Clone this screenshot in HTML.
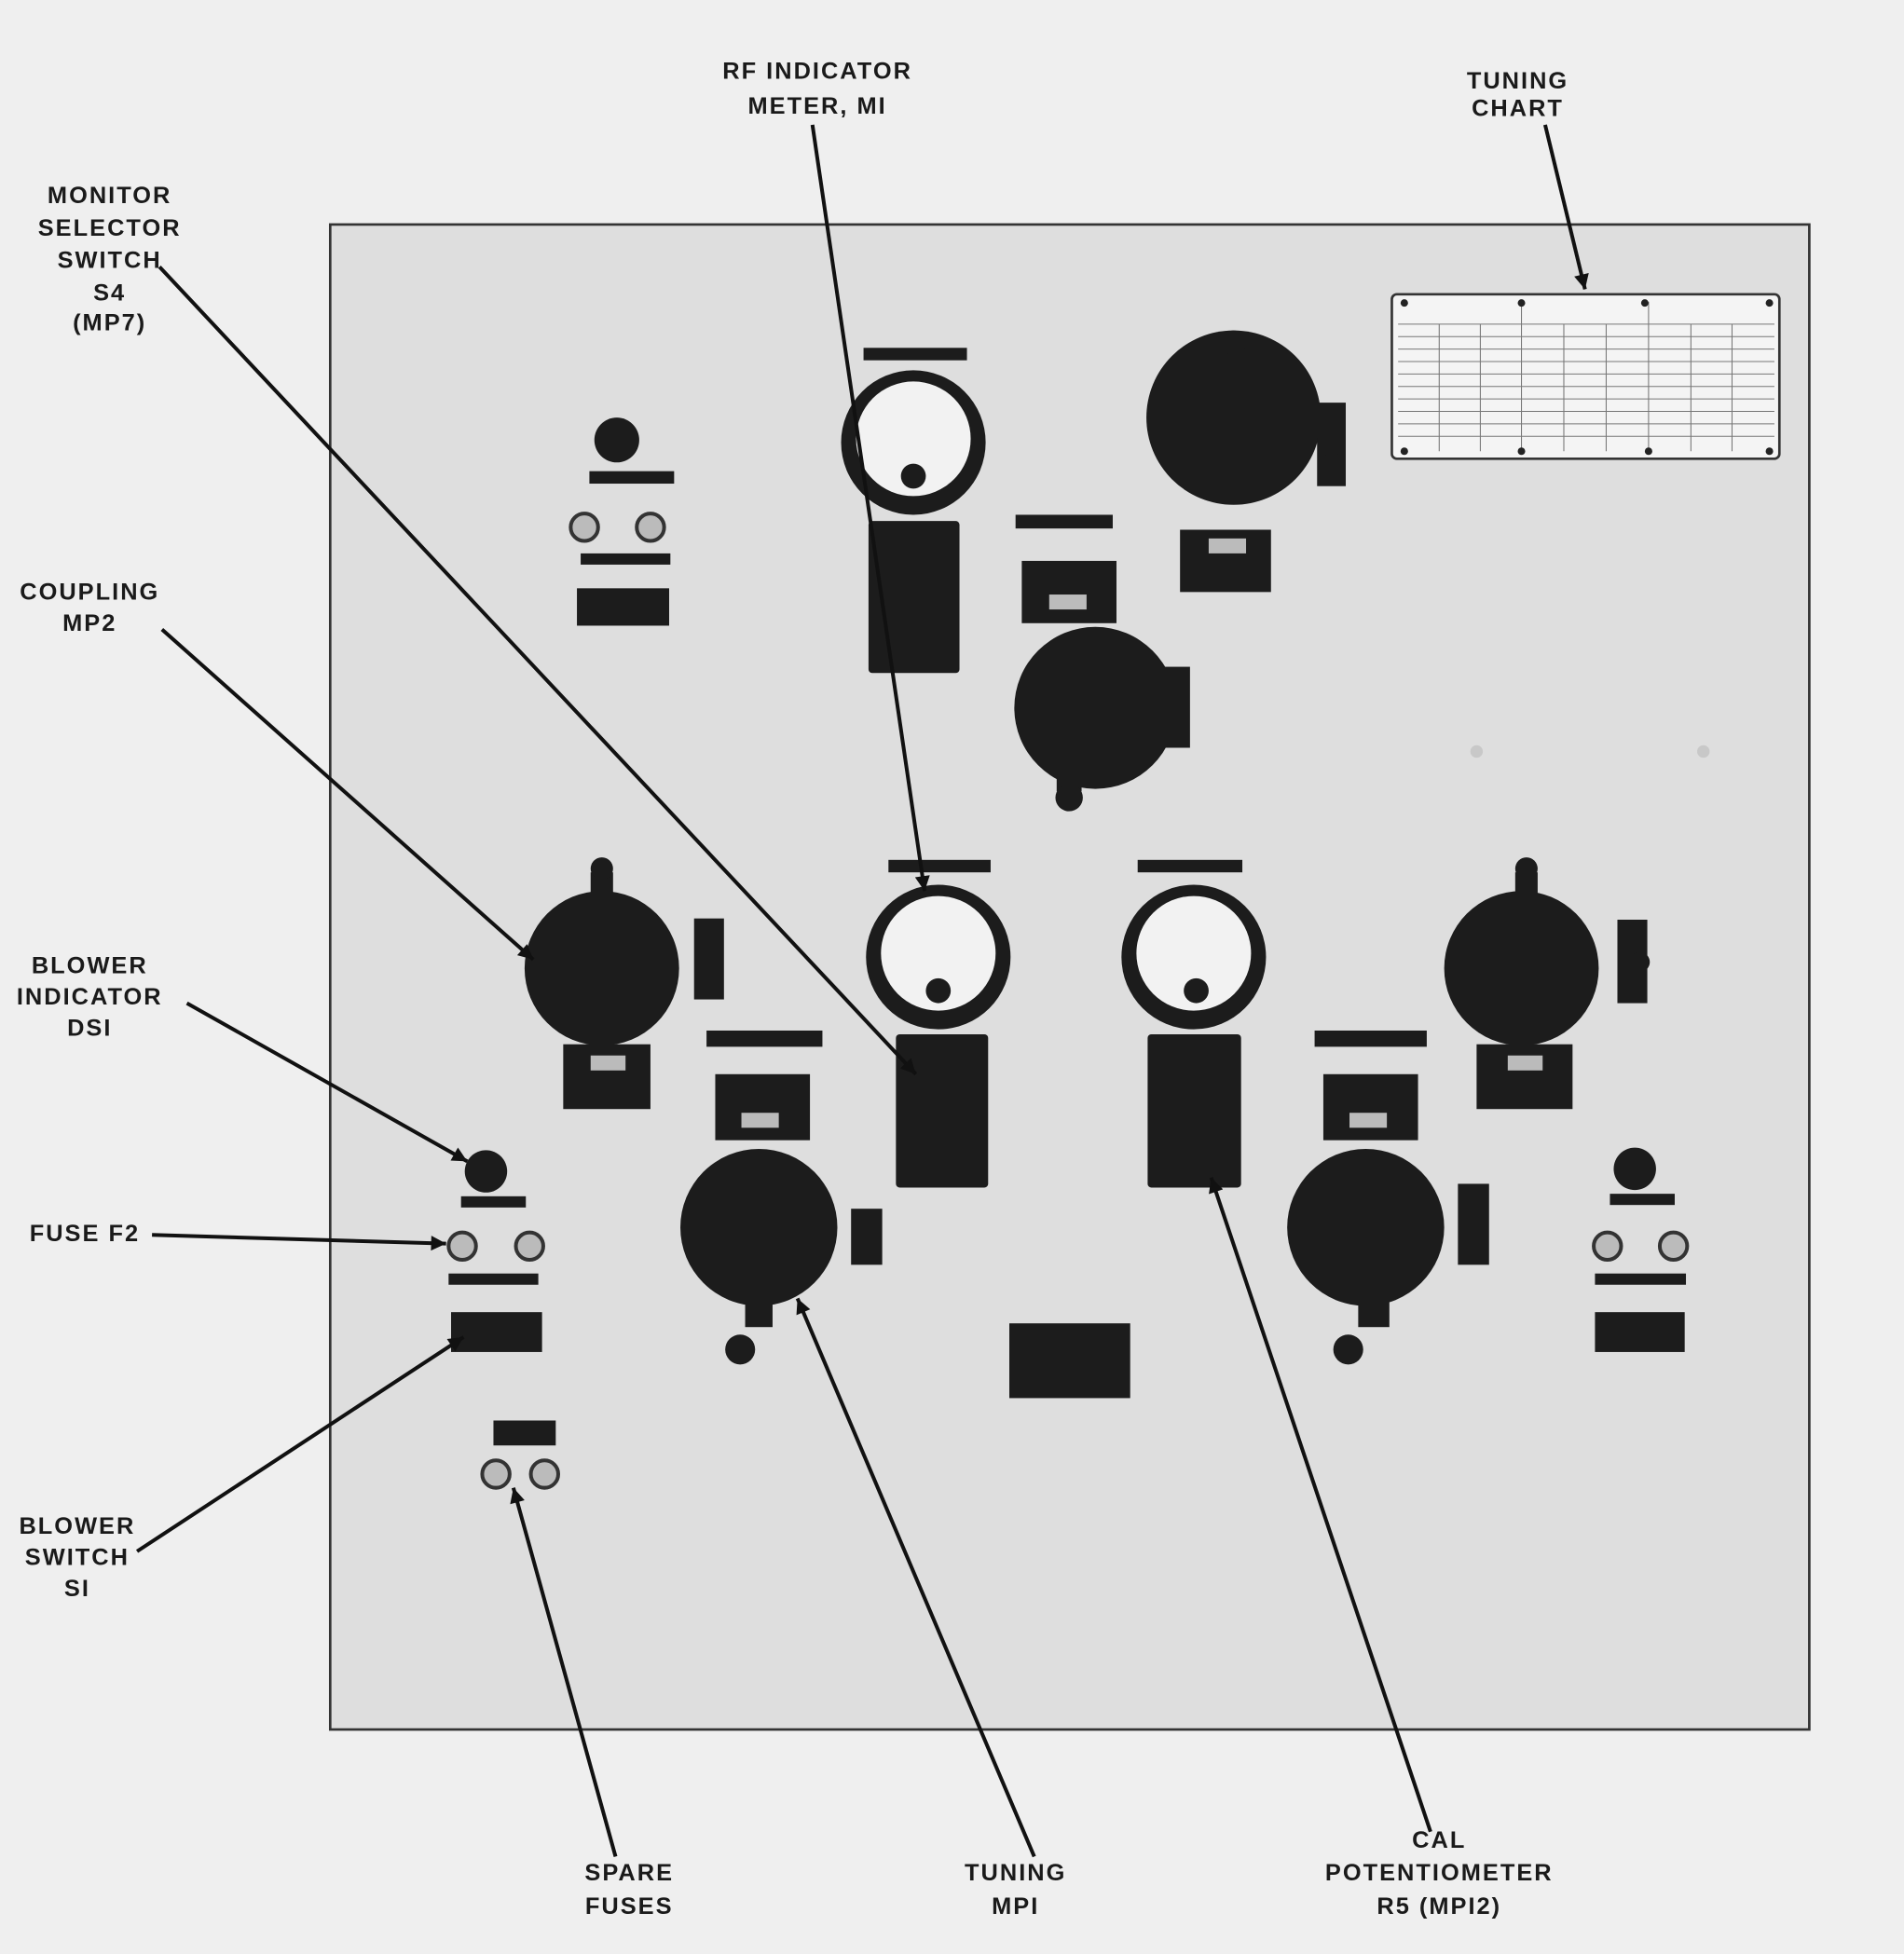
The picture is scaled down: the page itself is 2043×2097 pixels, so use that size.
<!DOCTYPE html>
<html><head><meta charset="utf-8"><style>
html,body{margin:0;padding:0;background:#efefef;}
svg{display:block;}
text{font-family:"Liberation Sans",sans-serif;font-weight:bold;fill:#1a1a1a;}
</style></head><body>
<svg width="2043" height="2097" viewBox="0 0 1528 1568" xmlns="http://www.w3.org/2000/svg">
<defs>
<marker id="a" viewBox="0 0 10 10" markerWidth="20" markerHeight="12" refX="10" refY="5" orient="auto" markerUnits="userSpaceOnUse"><path d="M0,0 L10,5 L0,10 z" fill="#111"/></marker>
</defs>
<rect width="1528" height="1568" fill="#efefef"/>
<rect x="265" y="180" width="1187" height="1208" fill="#dedede" stroke="#333" stroke-width="2"/>

<rect x="1117" y="236" width="311" height="132" rx="4" fill="#f4f4f4" stroke="#333" stroke-width="2"/>
<g stroke="#777" stroke-width="0.8">
<line x1="1122" y1="260" x2="1424" y2="260"/><line x1="1122" y1="270" x2="1424" y2="270"/>
<line x1="1221" y1="242" x2="1221" y2="362"/><line x1="1323" y1="242" x2="1323" y2="362"/>
<line x1="1155" y1="260" x2="1155" y2="362"/><line x1="1188" y1="260" x2="1188" y2="362"/>
<line x1="1255" y1="260" x2="1255" y2="362"/><line x1="1289" y1="260" x2="1289" y2="362"/>
<line x1="1357" y1="260" x2="1357" y2="362"/><line x1="1390" y1="260" x2="1390" y2="362"/>
<line x1="1122" y1="280" x2="1424" y2="280"/><line x1="1122" y1="290" x2="1424" y2="290"/>
<line x1="1122" y1="300" x2="1424" y2="300"/><line x1="1122" y1="310" x2="1424" y2="310"/>
<line x1="1122" y1="320" x2="1424" y2="320"/><line x1="1122" y1="330" x2="1424" y2="330"/>
<line x1="1122" y1="340" x2="1424" y2="340"/><line x1="1122" y1="350" x2="1424" y2="350"/>
</g>
<g fill="#222"><circle cx="1127" cy="243" r="3"/><circle cx="1221" cy="243" r="3"/><circle cx="1320" cy="243" r="3"/><circle cx="1420" cy="243" r="3"/><circle cx="1127" cy="362" r="3"/><circle cx="1221" cy="362" r="3"/><circle cx="1323" cy="362" r="3"/><circle cx="1420" cy="362" r="3"/></g>

<g fill="#1c1c1c">
<circle cx="495" cy="353" r="18"/>
<rect x="473" y="378" width="68" height="10"/>
<rect x="466" y="444" width="72" height="9"/>
<rect x="463" y="472" width="74" height="30"/>
<rect x="693" y="279" width="83" height="10"/>
<rect x="697" y="418" width="73" height="122" rx="3"/>
<rect x="815" y="413" width="78" height="11"/>
<rect x="820" y="450" width="76" height="50"/>
<circle cx="879" cy="568" r="65"/>
<rect x="848" y="590" width="20" height="45"/><circle cx="858" cy="640" r="11"/>
<rect x="930" y="535" width="25" height="65"/>
<circle cx="990" cy="335" r="70"/>
<rect x="980" y="280" width="20" height="50"/><circle cx="990" cy="275" r="10"/>
<rect x="1057" y="323" width="23" height="67"/><circle cx="1068" cy="355" r="11"/>
<rect x="947" y="425" width="73" height="50"/>
<circle cx="483" cy="777" r="62"/>
<rect x="474" y="700" width="18" height="50"/><circle cx="483" cy="697" r="9"/>
<rect x="557" y="737" width="24" height="65"/>
<rect x="452" y="838" width="70" height="52"/>
<rect x="713" y="690" width="82" height="10"/>
<rect x="719" y="830" width="74" height="123" rx="3"/>
<rect x="913" y="690" width="84" height="10"/>
<rect x="921" y="830" width="75" height="123" rx="3"/>
<circle cx="1221" cy="777" r="62"/>
<rect x="1216" y="700" width="18" height="50"/><circle cx="1225" cy="697" r="9"/>
<rect x="1298" y="738" width="24" height="67"/><circle cx="1316" cy="772" r="8"/>
<rect x="1185" y="838" width="77" height="52"/>
<rect x="567" y="827" width="93" height="13"/>
<rect x="574" y="862" width="76" height="53"/>
<circle cx="609" cy="985" r="63"/>
<rect x="598" y="1010" width="22" height="55"/><circle cx="594" cy="1083" r="12"/>
<rect x="683" y="970" width="25" height="45"/>
<rect x="1055" y="827" width="90" height="13"/>
<rect x="1062" y="862" width="76" height="53"/>
<circle cx="1096" cy="985" r="63"/>
<rect x="1090" y="1010" width="25" height="55"/><circle cx="1082" cy="1083" r="12"/>
<rect x="1170" y="950" width="25" height="65"/>
<circle cx="390" cy="940" r="17"/>
<rect x="370" y="960" width="52" height="9"/>
<rect x="360" y="1022" width="72" height="9"/>
<rect x="362" y="1053" width="73" height="32"/>
<rect x="396" y="1140" width="50" height="20"/>
<circle cx="1312" cy="938" r="17"/>
<rect x="1292" y="958" width="52" height="9"/>
<rect x="1280" y="1022" width="73" height="9"/>
<rect x="1280" y="1053" width="72" height="32"/>
<rect x="810" y="1062" width="97" height="60"/>
</g>
<g>
<circle cx="733" cy="355" r="58" fill="#1c1c1c"/><circle cx="733" cy="352" r="46" fill="#f2f2f2"/><circle cx="733" cy="382" r="10" fill="#1c1c1c"/>
<circle cx="753" cy="768" r="58" fill="#1c1c1c"/><circle cx="753" cy="765" r="46" fill="#f2f2f2"/><circle cx="753" cy="795" r="10" fill="#1c1c1c"/>
<circle cx="958" cy="768" r="58" fill="#1c1c1c"/><circle cx="958" cy="765" r="46" fill="#f2f2f2"/><circle cx="960" cy="795" r="10" fill="#1c1c1c"/>
</g>
<g fill="#bbb">
<rect x="842" y="477" width="30" height="12"/><rect x="595" y="893" width="30" height="12"/><rect x="1083" y="893" width="30" height="12"/>
<rect x="970" y="432" width="30" height="12"/><rect x="474" y="847" width="28" height="12"/><rect x="1210" y="847" width="28" height="12"/>
</g>
<g fill="#bbb" stroke="#333" stroke-width="3">
<circle cx="469" cy="423" r="11"/><circle cx="522" cy="423" r="11"/>
<circle cx="371" cy="1000" r="11"/><circle cx="425" cy="1000" r="11"/>
<circle cx="398" cy="1183" r="11"/><circle cx="437" cy="1183" r="11"/>
<circle cx="1290" cy="1000" r="11"/><circle cx="1343" cy="1000" r="11"/>
</g>
<g fill="#c8c8c8"><circle cx="1185" cy="603" r="5"/><circle cx="1367" cy="603" r="5"/></g>

<g stroke="#111" stroke-width="3" fill="none" marker-end="url(#a)">
<line x1="652" y1="100" x2="742" y2="715"/>
<line x1="1240" y1="100" x2="1272" y2="232"/>
<line x1="128" y1="214" x2="735" y2="862"/>
<line x1="130" y1="505" x2="428" y2="770"/>
<line x1="150" y1="805" x2="375" y2="932"/>
<line x1="122" y1="991" x2="358" y2="998"/>
<line x1="110" y1="1245" x2="372" y2="1073"/>
<line x1="494" y1="1490" x2="412" y2="1194"/>
<line x1="830" y1="1490" x2="640" y2="1042"/>
<line x1="1148" y1="1470" x2="972" y2="945"/>
</g>

<g font-size="19" text-anchor="middle" letter-spacing="1.5">
<text x="656" y="63">RF INDICATOR</text><text x="656" y="91">METER, MI</text>
<text x="1218" y="71">TUNING</text><text x="1218" y="93">CHART</text>
<text x="88" y="163">MONITOR</text><text x="88" y="189">SELECTOR</text><text x="88" y="215">SWITCH</text><text x="88" y="241">S4</text><text x="88" y="265">(MP7)</text>
<text x="72" y="481">COUPLING</text><text x="72" y="506">MP2</text>
<text x="72" y="781">BLOWER</text><text x="72" y="806">INDICATOR</text><text x="72" y="831">DSI</text>
<text x="68" y="996">FUSE F2</text>
<text x="62" y="1231">BLOWER</text><text x="62" y="1256">SWITCH</text><text x="62" y="1281">SI</text>
<text x="505" y="1509">SPARE</text><text x="505" y="1536">FUSES</text>
<text x="815" y="1509">TUNING</text><text x="815" y="1536">MPI</text>
<text x="1155" y="1483">CAL</text><text x="1155" y="1509">POTENTIOMETER</text><text x="1155" y="1536">R5 (MPI2)</text>
</g>
</svg>
</body></html>
